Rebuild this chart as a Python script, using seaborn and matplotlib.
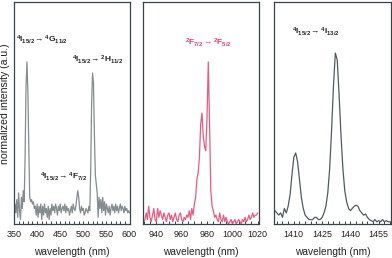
import numpy as np
import pandas as pd
import matplotlib
matplotlib.use("Agg")
import matplotlib.pyplot as plt
import seaborn as sns
from matplotlib.ticker import MultipleLocator

# ---- data ----
wl_vis = list(range(350, 601, 2))
int_vis = [0.02, 0.09, 0.05, 0.11, 0.03, 0.14, 0.06, 0.02, 0.12, 0.07,
           0.15, 0.10, 0.30, 0.62, 0.73, 0.60, 0.35, 0.12, 0.10, 0.11,
           0.09, 0.10, 0.07, 0.08, 0.04, 0.09, 0.03, 0.08, 0.05, 0.09,
           0.02, 0.08, 0.04, 0.09, 0.05, 0.07, 0.03, 0.08, 0.02, 0.07,
           0.04, 0.09, 0.06, 0.08, 0.05, 0.09, 0.07, 0.04, 0.08, 0.06,
           0.09, 0.05, 0.07, 0.08, 0.06, 0.09, 0.05, 0.08, 0.06, 0.07,
           0.04, 0.06, 0.08, 0.05, 0.09, 0.07, 0.06, 0.08, 0.12, 0.15,
           0.12, 0.07, 0.05, 0.08, 0.06, 0.07, 0.04, 0.05, 0.07, 0.06,
           0.05, 0.08, 0.06, 0.25, 0.55, 0.68, 0.63, 0.40, 0.22, 0.18,
           0.14, 0.03, 0.12, 0.07, 0.11, 0.05, 0.12, 0.06, 0.10, 0.04,
           0.09, 0.07, 0.05, 0.08, 0.04, 0.07, 0.09, 0.06, 0.08, 0.05,
           0.09, 0.06, 0.08, 0.05, 0.07, 0.09, 0.06, 0.08, 0.07, 0.05,
           0.08, 0.06, 0.07, 0.05, 0.06, 0.05]

wl_yb = list(range(930, 1021))
int_yb = [0.01, 0.02, 0.05, 0.02, 0.08, 0.03, 0.01, 0.04, 0.07, 0.02,
          0.01, 0.07, 0.03, 0.06, 0.04, 0.02, 0.05, 0.03, 0.01, 0.04,
          0.05, 0.02, 0.04, 0.01, 0.03, 0.05, 0.02, 0.01, 0.04, 0.05,
          0.02, 0.01, 0.03, 0.02, 0.04, 0.03, 0.06, 0.02, 0.07, 0.04,
          0.09, 0.12, 0.20, 0.23, 0.30, 0.45, 0.50, 0.40, 0.35, 0.33,
          0.48, 0.73, 0.45, 0.15, 0.08, 0.06, 0.03, 0.04, 0.02, 0.01,
          0.05, 0.02, 0.01, 0.04, 0.01, 0.03, 0.01, 0.00, 0.01, 0.02,
          0.00, 0.01, 0.02, 0.00, 0.01, 0.02, 0.01, 0.00, 0.02, 0.01,
          0.03, 0.01, 0.02, 0.04, 0.02, 0.03, 0.05, 0.03, 0.04, 0.04,
          0.05]

wl_ir = list(range(1400, 1462))
int_ir = [0.06, 0.05, 0.04, 0.05, 0.03, 0.07, 0.05, 0.08, 0.13, 0.22,
          0.30, 0.32, 0.28, 0.20, 0.12, 0.07, 0.04, 0.03, 0.02, 0.02,
          0.02, 0.03, 0.03, 0.02, 0.02, 0.03, 0.05, 0.08, 0.14, 0.25,
          0.42, 0.62, 0.77, 0.74, 0.58, 0.40, 0.25, 0.15, 0.10, 0.07,
          0.06, 0.07, 0.08, 0.085, 0.08, 0.06, 0.05, 0.04, 0.045, 0.03,
          0.02, 0.015, 0.01, 0.02, 0.01, 0.015, 0.01, 0.02, 0.01, 0.015,
          0.01, 0.01]

xlims = [(350, 601), (929.5, 1021), (1399.5, 1461.5)]
majors = [50, 20, 15]
minors = [10, 5, 3]
colors = ["#838c8e", "#e55c80", "#505b60"]
labels = [
    [(r"$\mathbf{^4I_{15/2}}\rightarrow\mathbf{^4G_{11/2}}$", 0.02, 0.80),
     (r"$\mathbf{^4I_{15/2}}\rightarrow\mathbf{^2H_{11/2}}$", 0.50, 0.71),
     (r"$\mathbf{^4I_{15/2}}\rightarrow\mathbf{^4F_{7/2}}$", 0.22, 0.185)],
    [(r"$\mathbf{^2F_{7/2}}\rightarrow\mathbf{^2F_{5/2}}$", 0.36, 0.79)],
    [(r"$\mathbf{^4I_{15/2}}\rightarrow\mathbf{^4I_{13/2}}$", 0.15, 0.84)],
]

sns.set_theme(style="ticks")
plt.rcParams["font.family"] = ["Liberation Sans", "DejaVu Sans"]
plt.rcParams["mathtext.fontset"] = "custom"
plt.rcParams["mathtext.rm"] = "Liberation Sans"
plt.rcParams["mathtext.it"] = "Liberation Sans"
plt.rcParams["mathtext.bf"] = "Liberation Sans:bold"

W, H = 392, 258
fig = plt.figure(figsize=(W / 100, H / 100), dpi=100)
boxes = [(14, 116), (143, 116), (274, 117)]
top, bottom = 2, 224

data = [(wl_vis, int_vis), (wl_yb, int_yb), (wl_ir, int_ir)]
spine_col = "#3a4448"
for i, ((x, y), (l, w)) in enumerate(zip(data, boxes)):
    ax = fig.add_axes([l / W, (H - bottom) / H, w / W, (bottom - top) / H])
    df = pd.DataFrame({"wl": x, "I": y})
    sns.lineplot(data=df, x="wl", y="I", ax=ax, color=colors[i], linewidth=0.9)
    ax.set_xlim(*xlims[i])
    ax.set_ylim(0, 1)
    ax.set_yticks([])
    ax.set_ylabel("")
    ax.set_xlabel("wavelength (nm)", fontsize=7.3, color="#222222", labelpad=6)
    ax.xaxis.set_major_locator(MultipleLocator(majors[i]))
    ax.xaxis.set_minor_locator(MultipleLocator(minors[i]))
    ax.tick_params(axis="x", which="both", direction="in", length=2.5,
                   width=0.7, color=spine_col, labelsize=6.5, pad=4,
                   labelcolor="#222222")
    for s in ax.spines.values():
        s.set_visible(True)
        s.set_color(spine_col)
        s.set_linewidth(0.9)
    txtcol = "#e0406a" if i == 1 else "#222222"
    for t, tx, ty in labels[i]:
        ax.text(tx, ty, t, transform=ax.transAxes, fontsize=6, color=txtcol,
                ha="left", va="bottom")
    if i == 0:
        ax.set_ylabel("normalized intensity (a.u.)", fontsize=7.6,
                      color="#222222")
        ax.yaxis.set_label_coords(-0.035, 0.54)

fig.savefig("out.png", dpi=100)
